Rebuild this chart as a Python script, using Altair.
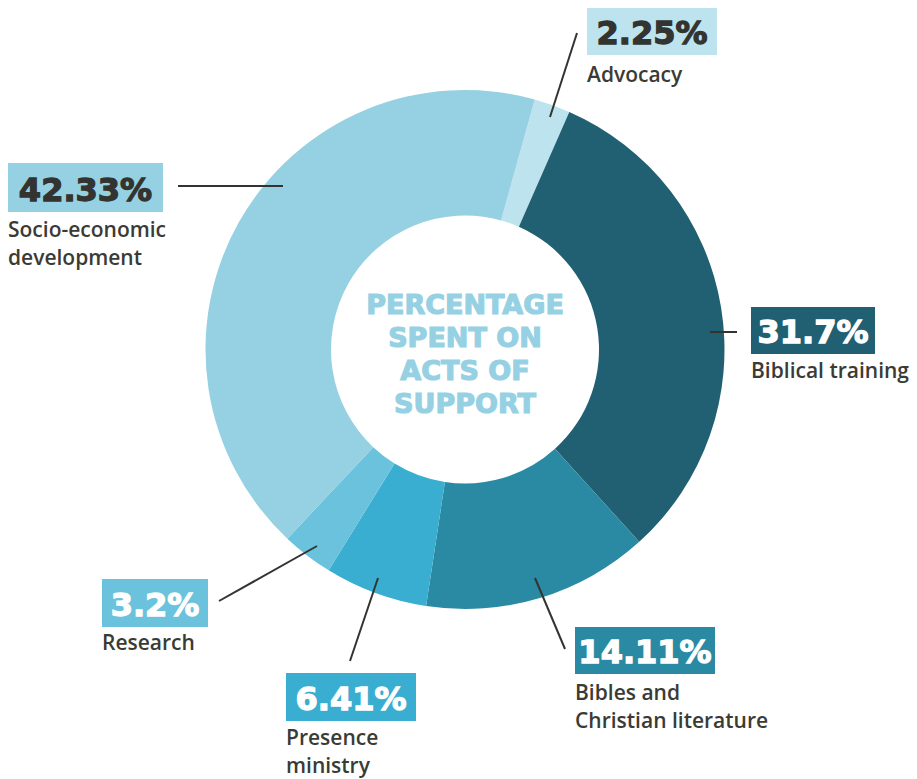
import altair as alt
import pandas as pd
import math

# ---- data ----
categories = ["Advocacy", "Biblical training", "Bibles and Christian literature",
              "Presence ministry", "Research", "Socio-economic development"]
values = [2.25, 31.7, 14.11, 6.41, 3.2, 42.33]
pct_labels = ["2.25%", "31.7%", "14.11%", "6.41%", "3.2%", "42.33%"]
name_labels = ["Advocacy", "Biblical training", "Bibles and\nChristian literature",
               "Presence\nministry", "Research", "Socio-economic\ndevelopment"]
center_lines = ["PERCENTAGE", "SPENT ON", "ACTS OF", "SUPPORT"]

# ---- style ----
colors = ["#bde3ef", "#216072", "#2a8aa3", "#3aaed1", "#6bc2dc", "#96d1e3"]
pct_text_colors = ["#33342f", "#ffffff", "#ffffff", "#ffffff", "#ffffff", "#33342f"]
label_color = "#3b3b35"

# ---- layout (page pixel coordinates) ----
W, H = 901, 771
cx, cy = 465, 349.5
outer_r, inner_r = 259.5, 134
start_angle = math.radians(15.6)

box_x = [587, 751, 575, 286, 102, 8]
box_x2 = [717, 875, 715, 416, 208, 163]
box_y = [7, 307, 627, 673, 579, 163]
box_y2 = [55, 354, 674, 721, 627, 212]
name_y = [82, 378, 700, 745, 650, 237]
lx = [577, 710, 535, 378, 219, 178]
ly = [33, 332, 578, 578, 601, 186]
lx2 = [550, 737, 565, 350, 317, 283]
ly2 = [117, 332, 649, 661, 546, 186]
center_y = [314, 347, 380, 413]

df = pd.DataFrame({
    "cat": categories, "value": values, "order": list(range(len(categories))),
    "pct": pct_labels, "name": name_labels, "pcolor": pct_text_colors,
    "bx": box_x, "bx2": box_x2, "by": box_y, "by2": box_y2,
    "bxc": [(a + b) / 2 for a, b in zip(box_x, box_x2)],
    "pty": [b - 11 for b in box_y2],
    "ny": name_y, "lx": lx, "ly": ly, "lx2": lx2, "ly2": ly2,
})
cdf = pd.DataFrame({"t": center_lines, "y": center_y, "x": [cx] * 4})

xs = alt.Scale(domain=[8, 8 + W], range=[0, W], zero=False, nice=False)
ys = alt.Scale(domain=[8, 8 + H], range=[0, H], zero=False, nice=False)
color = alt.Color("cat:N", scale=alt.Scale(domain=categories, range=colors), legend=None)

base = alt.Chart(df)

donut = base.mark_arc(outerRadius=outer_r, innerRadius=inner_r).encode(
    theta=alt.Theta("value:Q", stack=True,
                    scale=alt.Scale(range=[start_angle, start_angle + 2 * math.pi])),
    order=alt.Order("order:Q"),
    color=color,
    x=alt.value(cx - 8), y=alt.value(cy - 8),
)

leaders = base.mark_rule(color="#33342f", strokeWidth=2).encode(
    x=alt.X("lx:Q", scale=xs, axis=None), y=alt.Y("ly:Q", scale=ys, axis=None),
    x2="lx2:Q", y2="ly2:Q",
)

boxes = base.mark_rect().encode(
    x=alt.X("bx:Q", scale=xs, axis=None), x2="bx2:Q",
    y=alt.Y("by:Q", scale=ys, axis=None), y2="by2:Q",
    color=color,
)

pct_text = base.mark_text(font="DejaVu Sans", fontWeight="bold", fontSize=32,
                          align="center", baseline="alphabetic", strokeWidth=1.3).encode(
    x=alt.X("bxc:Q", scale=xs, axis=None), y=alt.Y("pty:Q", scale=ys, axis=None),
    text="pct:N", color=alt.Color("pcolor:N", scale=None),
    stroke=alt.Stroke("pcolor:N", scale=None),
)

name_text = base.mark_text(font="Open Sans", fontWeight=600, fontSize=21,
                           align="left", baseline="alphabetic", lineBreak="\n",
                           lineHeight=28, color=label_color).encode(
    x=alt.X("bx:Q", scale=xs, axis=None), y=alt.Y("ny:Q", scale=ys, axis=None),
    text="name:N",
)

center_text = alt.Chart(cdf).mark_text(font="DejaVu Sans", fontWeight="bold", fontSize=27,
                                       align="center", baseline="alphabetic",
                                       color="#96d1e3", stroke="#96d1e3",
                                       strokeWidth=1.2).encode(
    x=alt.X("x:Q", scale=xs, axis=None), y=alt.Y("y:Q", scale=ys, axis=None),
    text="t:N",
)

chart = alt.layer(donut, leaders, boxes, pct_text, name_text, center_text).properties(
    width=W, height=H, padding=0, autosize=alt.AutoSizeParams(type="none"),
    background="white",
).configure_view(stroke=None)

chart.save("out.html", embed_options={"renderer": "svg", "actions": False})
